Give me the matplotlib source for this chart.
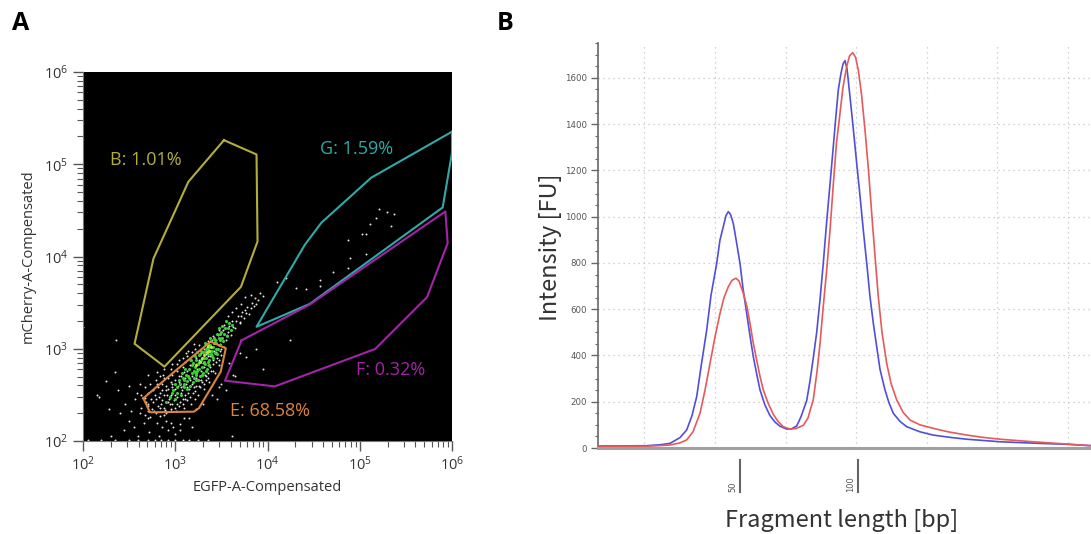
import numpy as np
import matplotlib
matplotlib.use("Agg")
import matplotlib.pyplot as plt
from matplotlib.ticker import LogLocator, NullFormatter, MultipleLocator, FixedLocator
from matplotlib.transforms import blended_transform_factory, offset_copy

plt.rcParams['font.family'] = ['Open Sans', 'DejaVu Sans']
plt.rcParams['mathtext.fontset'] = 'custom'
plt.rcParams['mathtext.rm'] = 'Open Sans'
plt.rcParams['mathtext.default'] = 'regular'

# ---------------- Panel A data (log10 values) ----------------
white_dots = [
    (2.62, 2.30), (2.70, 2.25), (2.68, 2.42), (2.75, 2.35), (2.80, 2.20), (2.78, 2.50), (2.85, 2.40),
    (2.88, 2.28), (2.90, 2.55), (2.93, 2.45), (2.95, 2.35), (2.97, 2.62), (3.00, 2.50), (3.02, 2.40),
    (3.04, 2.70), (3.06, 2.58), (3.08, 2.45), (3.10, 2.75), (3.12, 2.62), (3.14, 2.52), (3.16, 2.82),
    (3.18, 2.70), (3.20, 2.58), (3.22, 2.90), (3.24, 2.78), (3.26, 2.66), (3.28, 2.95), (3.30, 2.85),
    (3.32, 2.72), (3.34, 3.02), (3.36, 2.92), (3.38, 2.80), (3.40, 3.10), (3.42, 2.98), (3.44, 2.86),
    (3.46, 3.15), (3.48, 3.05), (3.50, 2.93), (3.52, 3.20), (3.55, 3.10), (3.58, 3.25), (3.60, 3.15),
    (3.62, 3.30), (3.65, 3.22), (3.68, 3.35), (3.70, 3.28), (3.72, 3.40), (3.75, 3.33), (3.78, 3.45),
    (3.80, 3.38), (3.83, 3.50), (3.86, 3.55), (3.88, 3.48),
    (2.45, 2.40), (2.55, 2.15), (2.50, 2.60), (2.35, 2.75), (2.60, 2.05), (2.72, 2.10), (2.82, 2.05),
    (2.92, 2.12), (3.05, 2.18), (3.00, 2.08), (2.88, 2.68), (2.80, 2.75), (3.12, 2.95), (3.20, 3.05),
    (3.55, 2.55), (3.65, 2.70), (3.45, 2.45), (3.62, 2.05), (2.25, 2.65), (2.15, 2.50), (2.40, 2.30),
    (2.30, 2.05), (2.00, 3.24), (2.36, 3.09), (2.17, 2.48), (2.58, 2.52), (2.66, 2.20), (2.95, 2.20),
    (2.86, 2.15), (3.10, 2.25), (2.52, 2.32),
    (2.70, 2.38), (2.74, 2.45), (2.77, 2.32), (2.82, 2.48), (2.84, 2.36), (2.86, 2.55), (2.89, 2.34),
    (2.91, 2.50), (2.94, 2.40), (2.96, 2.58), (2.99, 2.44), (3.01, 2.33), (3.03, 2.60), (3.05, 2.42),
    (3.07, 2.55), (3.09, 2.36), (3.11, 2.50), (3.13, 2.44), (3.15, 2.56), (3.17, 2.40), (3.19, 2.52),
    (3.21, 2.46), (3.23, 2.60), (3.25, 2.50), (3.27, 2.58), (3.29, 2.64), (3.31, 2.56), (3.33, 2.66),
    (3.35, 2.74), (3.37, 2.64), (3.39, 2.76), (3.41, 2.84), (3.43, 2.74), (3.45, 2.90), (3.47, 2.82),
    (3.49, 2.98), (2.80, 2.62), (2.87, 2.72), (2.95, 2.78), (3.02, 2.84), (3.08, 2.90), (3.14, 2.98),
    (2.63, 2.36), (2.63, 2.50), (2.67, 2.28), (2.67, 2.47), (2.67, 2.58), (2.71, 2.33), (2.71, 2.52),
    (2.71, 2.40), (2.73, 2.62), (2.73, 2.26), (2.76, 2.42), (2.76, 2.55), (2.79, 2.30), (2.79, 2.66),
    (2.79, 2.46), (2.81, 2.38), (2.81, 2.58), (2.83, 2.52), (2.83, 2.27), (2.83, 2.70), (2.86, 2.44),
    (2.86, 2.62), (2.88, 2.36), (2.88, 2.50), (2.88, 2.78), (2.90, 2.60), (2.90, 2.30), (2.92, 2.68),
    (2.92, 2.42), (2.92, 2.56), (2.95, 2.50), (2.95, 2.64), (2.95, 2.32), (2.97, 2.72), (2.97, 2.40),
    (2.97, 2.84), (3.00, 2.56), (3.00, 2.66), (3.00, 2.36), (3.02, 2.76), (3.02, 2.48), (3.04, 2.64),
    (3.04, 2.38), (3.04, 2.88), (3.06, 2.70), (3.06, 2.52), (3.08, 2.80), (3.08, 2.60), (3.08, 2.40),
    (3.11, 2.68), (3.11, 2.86), (3.11, 2.46), (3.13, 2.58), (3.13, 2.76), (3.13, 2.92), (3.16, 2.66),
    (3.16, 2.48), (3.16, 2.88), (3.18, 2.96), (3.18, 2.62), (3.21, 2.74), (3.21, 2.54), (3.21, 3.00),
    (3.23, 2.68), (3.23, 2.84), (3.26, 2.88), (3.26, 2.60), (3.26, 3.04), (3.28, 2.76), (3.28, 2.66),
    (3.31, 3.00), (3.31, 2.80), (3.31, 2.62), (3.33, 2.94), (3.33, 2.70), (3.36, 2.82), (3.36, 3.08),
    (3.36, 2.68), (3.38, 2.92), (3.38, 3.02), (3.41, 2.88), (3.41, 3.14), (3.41, 2.76), (3.44, 2.96),
    (3.44, 3.10), (3.47, 3.04), (3.47, 2.88), (3.47, 3.20), (3.50, 3.12), (3.50, 3.00), (3.53, 3.26),
    (3.53, 3.02), (3.57, 3.18), (3.57, 3.36), (3.61, 3.26), (3.61, 3.40), (3.66, 3.30), (3.66, 3.44),
    (3.71, 3.36), (3.71, 3.48), (3.76, 3.42), (3.76, 3.56), (3.82, 3.58), (3.82, 3.44), (3.92, 3.60),
    (2.50, 2.22), (2.56, 2.45), (2.44, 2.12), (2.62, 2.62), (2.70, 2.72), (3.15, 2.25), (3.22, 2.35),
    (3.30, 2.40), (3.40, 2.50), (3.50, 2.62), (3.58, 2.85), (3.70, 2.95), (2.28, 2.35), (2.38, 2.55),
    (3.05, 2.12), (2.98, 2.15), (2.90, 2.22), (3.18, 2.15),
    (3.95, 3.57), (4.10, 3.72), (4.20, 3.77), (4.31, 3.66), (4.42, 3.65), (4.57, 3.74), (4.71, 3.83),
    (4.89, 3.98), (4.87, 4.18), (5.02, 4.24), (5.07, 4.24), (5.18, 4.42), (5.21, 4.51), (5.30, 4.48),
    (5.37, 4.46), (5.34, 4.33), (5.07, 4.03), (4.87, 3.87), (4.57, 3.68), (4.24, 3.09), (3.95, 2.78),
    (3.88, 3.00), (3.77, 2.91), (3.63, 2.72), (3.47, 2.59), (3.85, 3.46), (3.90, 3.53), (3.77, 3.39),
    (3.70, 3.29), (3.63, 3.24), (3.56, 3.15), (5.11, 4.35),
    (2.05, 2.01), (2.20, 2.01), (2.35, 2.01), (2.50, 2.01), (2.60, 2.01), (2.70, 2.01), (2.78, 2.01),
    (2.85, 2.01), (2.92, 2.01), (3.00, 2.01), (3.08, 2.01), (3.15, 2.01), (3.25, 2.01), (3.35, 2.01),
]
green_dots = [
    (3.05, 2.62), (3.08, 2.68), (3.10, 2.58), (3.12, 2.72), (3.13, 2.65), (3.15, 2.78), (3.16, 2.60),
    (3.18, 2.74), (3.19, 2.85), (3.20, 2.68), (3.21, 2.80), (3.22, 2.72), (3.23, 2.88), (3.24, 2.76),
    (3.25, 2.83), (3.26, 2.93), (3.27, 2.70), (3.28, 2.88), (3.29, 2.80), (3.30, 2.96), (3.31, 2.90),
    (3.32, 2.84), (3.33, 3.00), (3.34, 2.78), (3.35, 2.94), (3.36, 3.05), (3.37, 2.88), (3.38, 2.98),
    (3.39, 3.08), (3.40, 2.92), (3.41, 3.02), (3.42, 3.12), (3.43, 2.95), (3.44, 3.06), (3.45, 3.16),
    (3.46, 3.00), (3.48, 3.10), (3.50, 3.18), (3.52, 3.08), (3.54, 3.22), (3.56, 3.14), (3.58, 3.28),
    (3.60, 3.20), (3.14, 2.70), (3.22, 2.66), (3.26, 2.78), (3.30, 2.74), (3.33, 2.90), (3.35, 2.86),
    (3.28, 2.98), (3.36, 3.00), (3.40, 2.98), (3.32, 3.06), (3.38, 3.12), (3.44, 3.00), (2.98, 2.55),
    (3.00, 2.62), (3.02, 2.52), (3.06, 2.50), (3.10, 2.66), (3.18, 2.82), (3.24, 2.96), (2.94, 2.48),
    (2.90, 2.42), (3.47, 3.22), (3.51, 3.25), (3.55, 3.30), (3.49, 3.04),
    (3.07, 2.74), (3.09, 2.62), (3.11, 2.78), (3.13, 2.56), (3.15, 2.68), (3.17, 2.88), (3.19, 2.64),
    (3.21, 2.92), (3.23, 2.74), (3.25, 2.66), (3.27, 2.94), (3.29, 2.72), (3.31, 2.86), (3.33, 2.76),
    (3.35, 3.00), (3.37, 2.82), (3.39, 2.94), (3.41, 2.90), (3.43, 3.10), (3.45, 2.94), (3.47, 3.12),
    (3.49, 3.16), (3.51, 3.12), (3.53, 3.16), (3.57, 3.22), (3.62, 3.26), (3.20, 2.76), (3.26, 2.86),
    (3.32, 2.96), (3.38, 3.04), (2.96, 2.52), (3.02, 2.58), (3.04, 2.66), (3.00, 2.46),
]
yellow_dots = [
    (3.27, 2.86), (3.31, 2.93), (3.34, 2.96), (3.37, 2.98), (3.29, 2.90), (3.39, 3.02),
    (3.23, 2.82), (3.42, 3.06), (3.35, 3.03),
]
gate_B = [(3.528, 5.261), (3.881, 5.106), (3.892, 4.163), (3.712, 3.671), (2.883, 2.806),
          (2.559, 3.054), (2.764, 3.978), (3.142, 4.810)]
gate_G = [(6.0, 5.353), (5.124, 4.854), (4.584, 4.366), (4.404, 4.126), (3.881, 3.238),
          (4.458, 3.486), (5.899, 4.532), (6.0, 5.124)]
gate_F = [(3.719, 3.091), (4.458, 3.479), (5.928, 4.488), (5.953, 4.144), (5.730, 3.560),
          (5.168, 2.998), (4.079, 2.592), (3.539, 2.654)]
gate_E = [(2.654, 2.463), (3.000, 2.760), (3.383, 3.077), (3.548, 3.005), (3.493, 2.752),
          (3.256, 2.355), (3.202, 2.318), (2.726, 2.311)]
gate_names = ['B: 1.01%', 'G: 1.59%', 'F: 0.32%', 'E: 68.58%']
gate_label_pos = [(2.29, 5.05), (4.57, 5.16), (4.96, 2.77), (3.59, 2.33)]
gate_colors = ['#b3ad3c', '#2eaaa8', '#a324a8', '#d9843f']

# ---------------- Panel B data ----------------
blue_t = [0, 22, 48.7, 62, 72, 82, 88.7, 94, 98.7, 103, 108.7, 113, 118.7, 122, 125.3, 128, 130.3,
          132.5, 135.3, 138.5, 142, 145, 148.7, 152, 155.3, 158.7, 162, 167, 172, 177, 182, 188.7,
          193, 198.7, 203, 208.7, 212, 215.3, 218.7, 222, 225.3, 228.7, 232, 235.3, 238, 240.3, 243,
          245, 247, 249, 252, 255.3, 258.7, 262, 265.3, 268.7, 272, 275.3, 278.7, 282, 287, 291,
          295.3, 302, 308.7, 322, 335, 352, 368.7, 402, 435, 468.7, 493]
blue_fu = [9, 9, 10, 14, 20, 45, 78, 140, 222, 350, 510, 660, 798, 900, 957, 1005, 1022,
           1010, 971, 890, 798, 690, 582, 485, 395, 320, 251, 185, 140, 112, 94, 82,
           82, 95, 135, 205, 290, 390, 500, 640, 800, 980, 1140, 1303, 1440, 1548, 1620,
           1660, 1675, 1640, 1519, 1380, 1231, 1090, 942, 800, 654, 540, 438, 340, 251, 195,
           150, 115, 92, 70, 56, 46, 38, 27, 21, 16, 10]
red_t = [0, 48.7, 60, 72, 82, 88.7, 95, 102, 107, 112, 117, 122, 126, 130.3, 134, 138, 141, 145.3,
         149, 152, 155, 158.7, 162, 165.3, 170, 175.3, 180, 185.3, 192, 198, 205.3, 210, 215.3, 219,
         222, 225, 228.7, 232, 235.3, 238.5, 242, 245, 248.7, 251.5, 254.7, 257.5, 260.3, 263.5, 267,
         270.5, 273.7, 277, 280.3, 284, 288.7, 293, 298.7, 305, 312, 322, 335.3, 350, 368.7, 385,
         402, 435, 468.7, 493]
red_fu = [8, 8, 10, 13, 22, 35, 70, 150, 250, 366, 480, 582, 650, 697, 725, 734, 722, 669,
          610, 539, 460, 380, 310, 251, 195, 145, 115, 92, 82, 84, 98, 130, 210, 330,
          450, 600, 770, 940, 1140, 1320, 1447, 1560, 1649, 1695, 1709, 1690, 1634, 1530, 1375,
          1200, 1015, 830, 654, 500, 366, 280, 208, 155, 121, 100, 85, 70, 56, 46,
          38, 27, 17, 10]
grid_t = [46, 117, 188, 258, 329, 399, 470]
bp_tick_t = [142, 260]
bp_tick_labels = ['50', '100']

W, H = 1091, 534
fig = plt.figure(figsize=(W / 100, H / 100), dpi=100)

# ================= Panel A =================
axA = fig.add_axes([83 / W, (H - 441) / H, 369 / W, 369 / H])
axA.set_facecolor('black')
axA.set_xscale('log')
axA.set_yscale('log')
axA.set_xlim(1e2, 1e6)
axA.set_ylim(1e2, 1e6)

wd = np.array(white_dots)
gd = np.array(green_dots)
yd = np.array(yellow_dots)
axA.scatter(10 ** wd[:, 0], 10 ** wd[:, 1], s=2.0, c='#e6e6e6', linewidths=0, zorder=2)
axA.scatter(10 ** gd[:, 0], 10 ** gd[:, 1], s=5, c='#3ccf3c', linewidths=0, zorder=3)
axA.scatter(10 ** yd[:, 0], 10 ** yd[:, 1], s=5, c='#b8e63a', linewidths=0, zorder=4)

for gate, col in zip([gate_B, gate_G, gate_F, gate_E], gate_colors):
    g = np.array(gate + [gate[0]])
    axA.plot(10 ** g[:, 0], 10 ** g[:, 1], color=col, lw=1.5, zorder=5, clip_on=True)
for name, (lx, ly), col in zip(gate_names, gate_label_pos, gate_colors):
    axA.text(10 ** lx, 10 ** ly, name, color=col, fontsize=13, ha='left', va='center', zorder=6)

for sp in ['top', 'right']:
    axA.spines[sp].set_visible(False)
for sp in ['left', 'bottom']:
    axA.spines[sp].set_color('#777777')
axA.xaxis.set_major_locator(LogLocator(base=10, numticks=10))
axA.yaxis.set_major_locator(LogLocator(base=10, numticks=10))
axA.xaxis.set_minor_locator(LogLocator(base=10, subs=np.arange(2, 10), numticks=20))
axA.yaxis.set_minor_locator(LogLocator(base=10, subs=np.arange(2, 10), numticks=20))
axA.xaxis.set_minor_formatter(NullFormatter())
axA.yaxis.set_minor_formatter(NullFormatter())
axA.tick_params(which='major', length=7, width=1, color='#555555', labelsize=10.5, labelcolor='#333333')
axA.tick_params(which='minor', length=4, width=0.8, color='#555555')
axA.set_xlabel('EGFP-A-Compensated', fontsize=10.5, color='#333333', labelpad=4)
axA.set_ylabel('mCherry-A-Compensated', fontsize=10.5, color='#333333', labelpad=6)

fig.text(12 / W, 1 - 24 / H, 'A', fontsize=18, fontweight='bold', va='center', ha='left')
fig.text(497 / W, 1 - 24 / H, 'B', fontsize=18, fontweight='bold', va='center', ha='left')

# ================= Panel B =================
axB = fig.add_axes([598 / W, (H - 448) / H, 493 / W, 405 / H])
axB.set_xlim(0, 493)
axB.set_ylim(0, 1751)
for gx in grid_t:
    axB.axvline(gx, color='#c4c4c4', lw=0.9, ls=(0, (1, 3)), zorder=0)
for gy in range(200, 1601, 200):
    axB.axhline(gy, color='#c4c4c4', lw=0.9, ls=(0, (1, 3)), zorder=0)
axB.plot(blue_t, blue_fu, color='#4f4fdc', lw=1.2, zorder=3)
axB.plot(red_t, red_fu, color='#e55a5a', lw=1.2, zorder=3)

axB.spines['top'].set_visible(False)
axB.spines['right'].set_visible(False)
axB.spines['left'].set_color('#666666')
axB.spines['left'].set_linewidth(1.2)
axB.spines['bottom'].set_color('#a0a0a0')
axB.spines['bottom'].set_linewidth(2.2)
axB.set_xticks([])
axB.yaxis.set_major_locator(FixedLocator(list(range(0, 1601, 200))))
axB.yaxis.set_minor_locator(MultipleLocator(50))
axB.tick_params(axis='y', which='major', length=5, width=1, color='#666666', labelsize=6.2,
                labelcolor='#555555', pad=3)
axB.tick_params(axis='y', which='minor', length=2.5, width=0.8, color='#666666')
for lab in axB.get_yticklabels():
    lab.set_fontfamily('DejaVu Sans')

trans = blended_transform_factory(axB.transData, axB.transAxes)
for pos, lab in zip(bp_tick_t, bp_tick_labels):
    axB.plot([pos, pos], [-12 / 405, -44 / 405], transform=trans, color='#666666', lw=1.5, clip_on=False)
    axB.text(pos, -44 / 405, lab, transform=offset_copy(trans, fig=fig, x=-3, y=0, units='dots'),
             rotation=90, ha='right', va='bottom', fontsize=6, color='#555555', family='DejaVu Sans')

fig.text(551 / W, 1 - 247 / H, 'Intensity [FU]', rotation=90, fontsize=17, color='#333333',
         ha='center', va='center', family=['Noto Sans CJK JP', 'DejaVu Sans'])
fig.text(842 / W, 1 - 521 / H, 'Fragment length [bp]', fontsize=17, color='#333333',
         ha='center', va='center', family=['Noto Sans CJK JP', 'DejaVu Sans'])

fig.savefig('out.png', dpi=100)
